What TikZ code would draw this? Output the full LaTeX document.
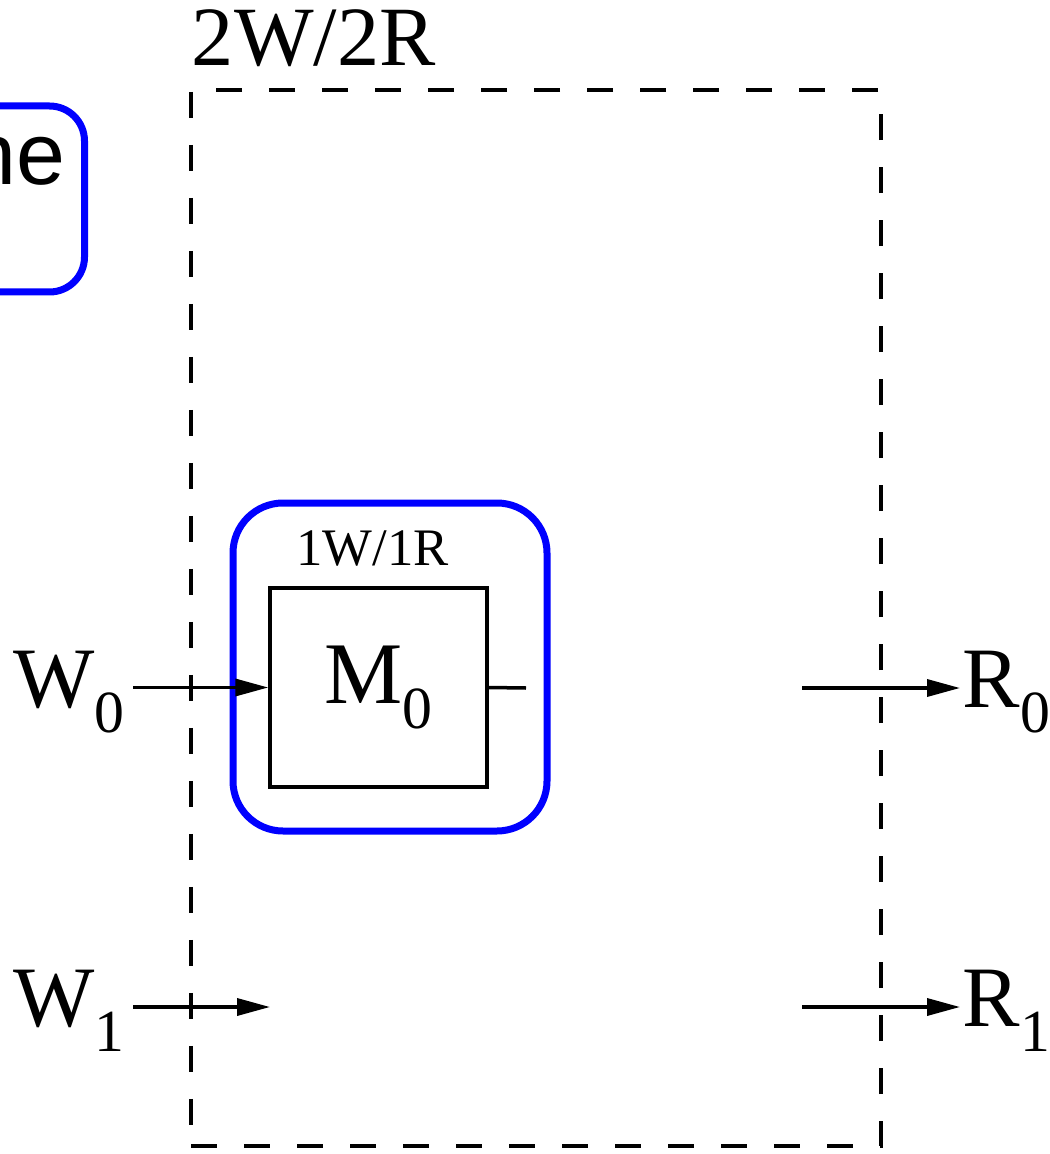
\documentclass[tikz,border=0pt]{standalone}
\usepackage{fontspec}
\setmainfont{Liberation Serif}
\newfontfamily\helvfont{Liberation Sans}
\usepackage{tikz}
\usetikzlibrary{arrows.meta, positioning, calc}
\definecolor{portBlue}{RGB}{0, 0, 255}
\newcommand{\sub}[1]{\raisebox{-2.5mm}{\fontsize{17}{17}\selectfont #1}}

\begin{document}
\begin{tikzpicture}[
    x=0.1mm, y=-0.1mm,
    outerbox/.style={
      rectangle, draw, dash pattern=on 2.6mm off 2.7mm, line width=0.35mm,
      minimum width=69mm, minimum height=105.6mm, inner sep=0pt
    },
    membox/.style={
      rectangle, draw, line width=0.35mm,
      minimum width=21.7mm, minimum height=19.9mm, inner sep=0pt,
      font=\fontsize{25}{28}\selectfont
    },
    portbox/.style={
      rectangle, draw=portBlue, rounded corners=5mm, line width=0.7mm,
      minimum width=31.4mm, minimum height=32.8mm, inner sep=0pt
    },
    notebox/.style={
      rectangle, draw=portBlue, rounded corners=3.5mm, line width=0.7mm,
      inner xsep=1.9mm, inner ysep=0pt, text height=7.9mm, text depth=10.7mm,
      font=\helvfont\fontsize{25}{28}\selectfont
    },
    lbl/.style={font=\fontsize{24.5}{28}\selectfont, inner xsep=0.8mm, inner ysep=0pt},
    flow/.style={-{Triangle[length=3.3mm, width=1.7mm]}, line width=0.35mm},
    wire/.style={line width=0.35mm}
  ]
    \useasboundingbox (0,0) rectangle (1049,1154);

    % Note box, cut at the left edge
    \node[notebox, anchor=base east] (note) at (88,185) {ne};

    % Outer 2W/2R memory
    \node[outerbox] (outer) at (536,618) {};
    \node[anchor=base west, inner sep=0pt, font=\fontsize{24}{28}\selectfont]
      (outertitle) at ([xshift=0.2mm, yshift=2.3mm]outer.north west) {2W/2R};

    % Inner 1W/1R bank
    \node[portbox] (port) at (390,667) {};
    \node[membox] (mem) at (378.5,687.5) {M\sub{0}};
    \node[anchor=base, inner sep=0pt, font=\fontsize{15}{18}\selectfont]
      (memtitle) at ([xshift=-0.6mm, yshift=2.1mm]mem.north) {1W/1R};
    \coordinate (memout) at (526,688);

    % Ports
    \node[lbl, anchor=base east] (w0) at (133,707) {W\sub{0}};
    \node[lbl, anchor=base east] (w1) at (133,1026) {W\sub{1}};
    \node[lbl, anchor=base west, inner xsep=0.2mm] (r0) at (960,707) {R\sub{0}};
    \node[lbl, anchor=base west, inner xsep=0.2mm] (r1) at (960,1026) {R\sub{1}};
    \coordinate (w1end) at (270,1007);
    \coordinate (r0start) at (802,688);
    \coordinate (r1start) at (802,1007);

    % Arrows
    \draw[flow] (w0.east |- mem.west) -- (mem.west);
    \draw[wire] (mem.east) -- (memout);
    \draw[flow] (w1.east |- w1end) -- (w1end);
    \draw[flow] (r0start) -- (r0.west |- r0start);
    \draw[flow] (r1start) -- (r1.west |- r1start);
  \end{tikzpicture}
\end{document}
